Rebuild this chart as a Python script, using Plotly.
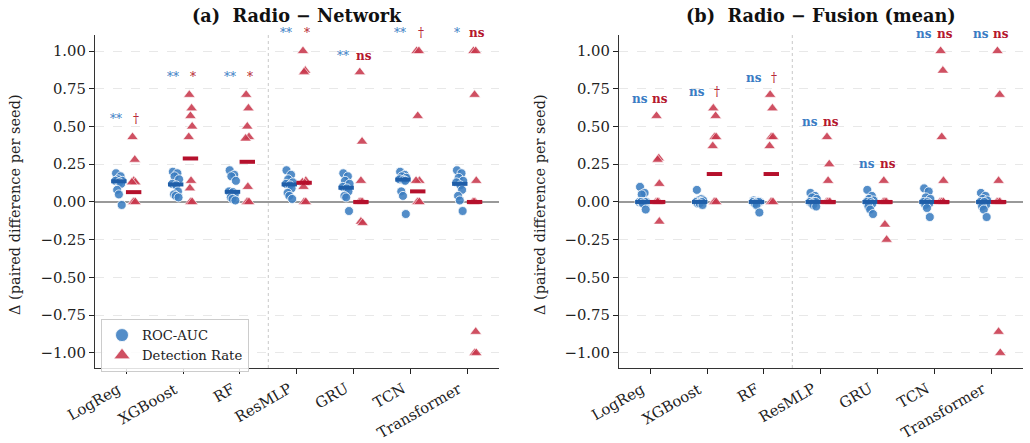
import plotly.graph_objects as go

# ---------------- data ----------------
models = ["LogReg", "XGBoost", "RF", "ResMLP", "GRU", "TCN", "Transformer"]
ytick_vals = [-1.0, -0.75, -0.5, -0.25, 0.0, 0.25, 0.5, 0.75, 1.0]
ytick_text = ["\u22121.00", "\u22120.75", "\u22120.50", "\u22120.25", "0.00", "0.25", "0.50", "0.75", "1.00"]

# Panel (a): Radio - Network, per-seed paired differences
a_auc = [
    [0.19, 0.17, 0.15, 0.14, 0.14, 0.13, 0.12, 0.08, 0.05, -0.02],
    [0.20, 0.19, 0.17, 0.15, 0.12, 0.11, 0.07, 0.05, 0.04, 0.03],
    [0.21, 0.18, 0.17, 0.14, 0.07, 0.065, 0.05, 0.03, 0.02, 0.01],
    [0.21, 0.18, 0.15, 0.13, 0.12, 0.11, 0.09, 0.06, 0.04, 0.02],
    [0.19, 0.17, 0.14, 0.12, 0.10, 0.09, 0.07, 0.04, 0.03, -0.06],
    [0.20, 0.18, 0.17, 0.16, 0.15, 0.145, 0.14, 0.07, 0.04, -0.08],
    [0.21, 0.19, 0.16, 0.14, 0.13, 0.11, 0.08, 0.04, 0.01, -0.06],
]
a_det = [
    [0.43, 0.28, 0.14, 0.13, 0.13, 0.0, 0.0, 0.0, 0.0, 0.0],
    [0.71, 0.62, 0.57, 0.50, 0.43, 0.14, 0.09, 0.0, 0.0, 0.0],
    [0.71, 0.62, 0.50, 0.43, 0.42, 0.10, 0.0, 0.0, 0.0, 0.0],
    [1.0, 0.87, 0.86, 0.14, 0.13, 0.125, 0.10, 0.0, 0.0, 0.0],
    [0.86, 0.40, 0.14, 0.0, 0.0, 0.0, 0.0, 0.0, -0.13, -0.14],
    [1.0, 1.0, 0.57, 0.14, 0.14, 0.0, 0.0, 0.0, 0.0, 0.0],
    [1.0, 1.0, 0.71, 0.14, 0.0, 0.0, 0.0, -0.86, -1.0, -1.0],
]
a_auc_med = [0.137, 0.116, 0.067, 0.116, 0.094, 0.148, 0.12]
a_det_med = [0.065, 0.288, 0.266, 0.127, 0.0, 0.07, 0.0]
a_sig_auc = ["**", "**", "**", "**", "**", "**", "*"]
a_sig_det = ["\u2020", "*", "*", "*", "ns", "\u2020", "ns"]
a_sig_y = [0.55, 0.83, 0.83, 1.12, 0.97, 1.12, 1.12]

# Panel (b): Radio - Fusion (mean)
b_auc = [
    [0.10, 0.06, 0.05, 0.0, 0.0, 0.0, 0.0, 0.0, -0.01, -0.05],
    [0.08, 0.02, 0.01, 0.01, 0.0, 0.0, 0.0, -0.01, -0.01, -0.02],
    [0.01, 0.005, 0.0, 0.0, 0.0, 0.0, 0.0, -0.01, -0.02, -0.07],
    [0.06, 0.04, 0.03, 0.02, 0.0, 0.0, 0.0, -0.01, -0.02, -0.03],
    [0.08, 0.04, 0.02, 0.01, 0.0, 0.0, -0.01, -0.03, -0.05, -0.08],
    [0.09, 0.07, 0.03, 0.02, 0.0, 0.0, -0.01, -0.02, -0.04, -0.10],
    [0.06, 0.04, 0.02, 0.01, 0.0, 0.0, -0.02, -0.03, -0.05, -0.10],
]
b_det = [
    [0.57, 0.29, 0.28, 0.12, 0.0, 0.0, 0.0, 0.0, 0.0, -0.13],
    [0.62, 0.57, 0.43, 0.43, 0.37, 0.0, 0.0, 0.0, 0.0, 0.0],
    [0.71, 0.62, 0.43, 0.43, 0.37, 0.0, 0.0, 0.0, 0.0, 0.0],
    [0.43, 0.25, 0.14, 0.0, 0.0, 0.0, 0.0, 0.0, 0.0, 0.0],
    [0.14, 0.0, 0.0, 0.0, 0.0, 0.0, 0.0, 0.0, -0.15, -0.25],
    [1.0, 0.87, 0.43, 0.14, 0.0, 0.0, 0.0, 0.0, 0.0, 0.0],
    [1.0, 0.71, 0.14, 0.0, 0.0, 0.0, 0.0, 0.0, -0.86, -1.0],
]
b_auc_med = [0.0, 0.0, 0.0, 0.0, 0.0, 0.0, 0.0]
b_det_med = [0.0, 0.185, 0.185, 0.0, 0.0, 0.0, 0.0]
b_sig_auc = ["ns", "ns", "ns", "ns", "ns", "ns", "ns"]
b_sig_det = ["ns", "\u2020", "\u2020", "ns", "ns", "ns", "ns"]
b_sig_y = [0.68, 0.73, 0.82, 0.53, 0.25, 1.11, 1.11]

# ---------------- style ----------------
FONT = "DejaVu Serif"
BLUE = "rgba(59,125,192,0.88)"
RED = "rgba(200,56,76,0.88)"
BLUE_MED = "#1f5ea8"
RED_MED = "#b5102c"
BLUE_TXT = "#3a7cc4"
RED_TXT = "#b5172e"
OFF = 0.13
SIG_OFF = 0.18
JIT_AUC = [-0.05, 0.03, -0.02, 0.06, -0.06, 0.01, 0.04, -0.03, 0.0, 0.05]
JIT_DET = [-0.02, 0.02, 0.0, 0.03, -0.03, 0.01, -0.01, 0.02, 0.0, 0.03]
YMIN, YMAX = -1.1, 1.106
TICK_FS = 14.8

fig = go.Figure()

panels = [
    (a_auc, a_det, a_auc_med, a_det_med, a_sig_auc, a_sig_det, a_sig_y, "x", "y"),
    (b_auc, b_det, b_auc_med, b_det_med, b_sig_auc, b_sig_det, b_sig_y, "x2", "y2"),
]


def sig_text(s):
    return "<b>%s</b>" % s if s == "ns" else s


for auc, det, auc_med, det_med, sig_auc, sig_det, sig_y, xa, ya in panels:
    xs, ys = [], []
    for i, vals in enumerate(auc):
        for j, v in enumerate(vals):
            xs.append(i - OFF + JIT_AUC[j % len(JIT_AUC)])
            ys.append(v)
    fig.add_trace(go.Scatter(x=xs, y=ys, mode="markers", xaxis=xa, yaxis=ya, showlegend=False,
                             marker=dict(symbol="circle", size=9, color=BLUE,
                                         line=dict(color="white", width=0.8))))
    xs, ys = [], []
    for i, vals in enumerate(det):
        for j, v in enumerate(vals):
            xs.append(i + OFF + JIT_DET[j % len(JIT_DET)])
            ys.append(v)
    fig.add_trace(go.Scatter(x=xs, y=ys, mode="markers", xaxis=xa, yaxis=ya, showlegend=False,
                             marker=dict(symbol="triangle-up", size=10, color=RED,
                                         line=dict(color="white", width=0.6))))
    # medians
    fig.add_trace(go.Scatter(x=[i - OFF for i in range(len(models))], y=auc_med, mode="markers",
                             xaxis=xa, yaxis=ya, showlegend=False,
                             marker=dict(symbol="line-ew", size=11, line=dict(color=BLUE_MED, width=4))))
    fig.add_trace(go.Scatter(x=[i + OFF for i in range(len(models))], y=det_med, mode="markers",
                             xaxis=xa, yaxis=ya, showlegend=False,
                             marker=dict(symbol="line-ew", size=11, line=dict(color=RED_MED, width=4))))
    # significance labels (annotations so they can sit above the axis range)
    for i in range(len(models)):
        frac = (sig_y[i] - YMIN) / (YMAX - YMIN)
        fig.add_annotation(x=i - SIG_OFF, y=frac, xref=xa, yref=ya + " domain", text=sig_text(sig_auc[i]),
                           showarrow=False, xanchor="center", yanchor="middle",
                           font=dict(family=FONT, size=12, color=BLUE_TXT))
        fig.add_annotation(x=i + SIG_OFF, y=frac, xref=xa, yref=ya + " domain", text=sig_text(sig_det[i]),
                           showarrow=False, xanchor="center", yanchor="middle",
                           font=dict(family=FONT, size=12, color=RED_TXT))
    # rotated category labels (right-aligned at tick, like the reference)
    for i, name in enumerate(models):
        fig.add_annotation(x=i, y=0, xref=xa, yref=ya + " domain", text=name, textangle=-30,
                           showarrow=False, xanchor="right", yanchor="top", yshift=-9,
                           font=dict(family=FONT, size=TICK_FS, color="#222"))

# legend entries
fig.add_trace(go.Scatter(x=[None], y=[None], mode="markers", name="ROC-AUC",
                         marker=dict(symbol="circle", size=13, color=BLUE, line=dict(color="white", width=0.8))))
fig.add_trace(go.Scatter(x=[None], y=[None], mode="markers", name="Detection Rate",
                         marker=dict(symbol="triangle-up", size=14, color=RED, line=dict(color="white", width=0.6))))

W, H = 1030, 443
top_px, bot_px = 35, 368
ydom = [1 - bot_px / H, 1 - top_px / H]
xdom1 = [95 / W, 499 / W]
xdom2 = [619 / W, 1023 / W]

xaxis_common = dict(range=[-0.55, 6.56], tickmode="array", tickvals=list(range(len(models))),
                    showticklabels=False, showgrid=False, zeroline=False, showline=True, linecolor="#333",
                    linewidth=1.3, ticks="outside", ticklen=5, tickwidth=1.3, tickcolor="#222")
yaxis_common = dict(range=[YMIN, YMAX], tickmode="array", tickvals=ytick_vals, ticktext=ytick_text,
                    showgrid=True, gridcolor="#e8e8e8", griddash="dash", gridwidth=1,
                    zeroline=True, zerolinecolor="#999", zerolinewidth=1.5,
                    showline=True, linecolor="#333", linewidth=1.3, ticks="outside", ticklen=5,
                    tickwidth=1.3, tickcolor="#222", tickfont=dict(family=FONT, size=TICK_FS, color="#222"))

fig.update_layout(
    width=W, height=H, margin=dict(l=0, r=0, t=0, b=0),
    paper_bgcolor="white", plot_bgcolor="white",
    font=dict(family=FONT, color="#222"),
    xaxis=dict(domain=xdom1, anchor="y", **xaxis_common),
    yaxis=dict(domain=ydom, anchor="x", **yaxis_common),
    xaxis2=dict(domain=xdom2, anchor="y2", **xaxis_common),
    yaxis2=dict(domain=ydom, anchor="x2", **yaxis_common),
    legend=dict(x=101 / W, y=1 - 319 / H, xanchor="left", yanchor="top",
                bgcolor="rgba(255,255,255,0.85)", bordercolor="#cccccc", borderwidth=1,
                font=dict(family=FONT, size=13.2, color="#222"), tracegroupgap=0, itemwidth=30),
    showlegend=True,
)

# divider between classical and deep models
for xr, yr in [("x", "y"), ("x2", "y2")]:
    fig.add_shape(type="line", xref=xr, yref=yr + " domain", x0=2.5, x1=2.5, y0=0, y1=1,
                  line=dict(color="#c8c8c8", width=1, dash="dot"), layer="below")

# titles and axis labels
for cx, txt in [((95 + 499) / 2 / W, "<b>(a)\u00a0\u00a0Radio \u2212 Network</b>"),
                ((619 + 1023) / 2 / W, "<b>(b)\u00a0\u00a0Radio \u2212 Fusion (mean)</b>")]:
    fig.add_annotation(x=cx, y=1 - 15 / H, xref="paper", yref="paper", text=txt, showarrow=False,
                       xanchor="center", yanchor="middle", font=dict(family=FONT, size=17.7, color="#111"))
for lx in [15, 540]:
    fig.add_annotation(x=lx / W, y=1 - 205 / H, xref="paper", yref="paper",
                       text="\u0394 (paired difference per seed)", textangle=-90, showarrow=False,
                       xanchor="center", yanchor="middle", font=dict(family=FONT, size=14.5, color="#222"))

fig.write_html("out.html")
